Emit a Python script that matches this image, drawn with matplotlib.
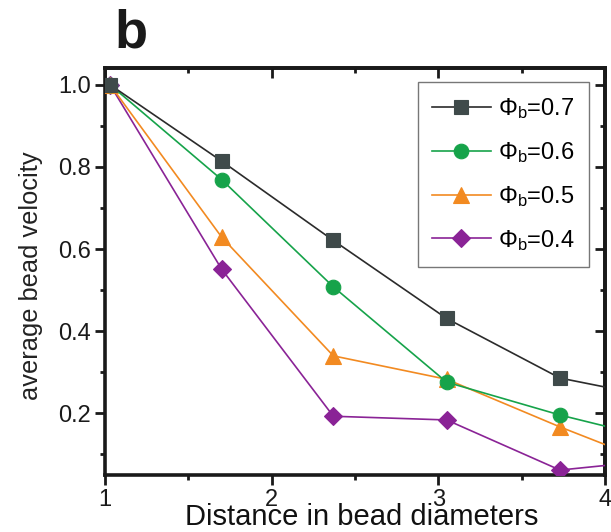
import matplotlib
matplotlib.use("Agg")
import matplotlib.pyplot as plt
from matplotlib.ticker import MultipleLocator, FixedLocator

plt.rcParams['font.family'] = ['Liberation Sans', 'DejaVu Sans']
plt.rcParams['mathtext.fontset'] = 'custom'
plt.rcParams['mathtext.rm'] = 'Liberation Sans'
plt.rcParams['mathtext.it'] = 'Liberation Sans:italic'

# distance from the driven bead, in bead diameters
distance = [1.03, 1.70, 2.37, 3.05, 3.73, 4.41]

# average bead velocity for each packing fraction
v_07 = [1.00, 0.814, 0.621, 0.431, 0.286, 0.231]
v_06 = [1.00, 0.769, 0.508, 0.276, 0.196, 0.128]
v_05 = [1.00, 0.629, 0.340, 0.283, 0.167, 0.059]
v_04 = [1.00, 0.551, 0.193, 0.184, 0.062, 0.090]

labels = [r'$\Phi_\mathrm{b}$=0.7', r'$\Phi_\mathrm{b}$=0.6',
          r'$\Phi_\mathrm{b}$=0.5', r'$\Phi_\mathrm{b}$=0.4']

x_ticks = [1, 2, 3, 4]
y_ticks = [0.2, 0.4, 0.6, 0.8, 1.0]

fig = plt.figure(figsize=(6.11, 5.32), dpi=100)
ax = fig.add_axes([105 / 611, 1 - 475 / 532, 500 / 611, 406.7 / 532])

styles = [
    (v_07, '#2b2b2b', '#3f4a4a', 's', 9.5),
    (v_06, '#16a34a', '#16a34a', 'o', 10.5),
    (v_05, '#f28a21', '#f28a21', '^', 11.5),
    (v_04, '#8a2396', '#8a2396', 'D', 9.0),
]

handles = [None] * 4
for i in reversed(range(4)):
    vals, lc, mc, mk, ms = styles[i]
    h, = ax.plot(distance, vals, color=lc, lw=1.2, marker=mk, ms=ms,
                 markerfacecolor=mc, markeredgecolor=mc, markeredgewidth=0.8,
                 label=labels[i], zorder=3 + (4 - i))
    handles[i] = h

ax.set_xlim(1, 4)
ax.set_ylim(0.05, 1.04)
ax.xaxis.set_major_locator(FixedLocator(x_ticks))
ax.yaxis.set_major_locator(FixedLocator(y_ticks))
ax.xaxis.set_minor_locator(MultipleLocator(0.5))
ax.yaxis.set_minor_locator(MultipleLocator(0.1))
ax.set_xticklabels([str(t) for t in x_ticks])
ax.set_yticklabels([f'{t:.1f}' for t in y_ticks])

for s in ax.spines.values():
    s.set_linewidth(2.6)
    s.set_color('#1a1a1a')

ax.tick_params(which='both', direction='out', top=False, right=False,
               width=2.0, color='#1a1a1a', labelsize=17, labelcolor='#1a1a1a')
ax.tick_params(which='major', length=7, pad=3)
ax.tick_params(which='minor', length=3.6)

# mirrored ticks on the top and right edges, pointing inwards
secx = ax.secondary_xaxis('top')
secx.xaxis.set_major_locator(FixedLocator(x_ticks))
secx.xaxis.set_minor_locator(MultipleLocator(0.5))
secx.tick_params(which='both', direction='in', labeltop=False, width=2.0,
                 color='#1a1a1a')
secx.tick_params(which='major', length=7)
secx.tick_params(which='minor', length=3.6)
secx.spines['top'].set_linewidth(2.6)

secy = ax.secondary_yaxis('right')
secy.yaxis.set_major_locator(FixedLocator(y_ticks))
secy.yaxis.set_minor_locator(MultipleLocator(0.1))
secy.tick_params(which='both', direction='in', labelright=False, width=2.0,
                 color='#1a1a1a')
secy.tick_params(which='major', length=7)
secy.tick_params(which='minor', length=3.6)
secy.spines['right'].set_linewidth(2.6)

ax.set_xlabel('Distance in bead diameters', fontsize=21, color='#111111')
ax.xaxis.label.set_va('baseline')
ax.xaxis.set_label_coords(0.514, -0.123)

ax.set_ylabel('average bead velocity', fontsize=18.3, color='#222222')
ax.yaxis.set_label_coords(-0.124, 0.49)

leg = ax.legend(handles=handles, loc='upper right', bbox_to_anchor=(0.968, 0.966),
                borderaxespad=0, fontsize=17, frameon=True, fancybox=False,
                handlelength=2.5, handletextpad=0.3, borderpad=0.6,
                labelspacing=0.8)
leg.get_frame().set_edgecolor('#555555')
leg.get_frame().set_linewidth(1.0)

fig.text(114 / 611, 1 - 47 / 532, 'b', fontsize=39, fontweight='bold',
         ha='left', va='baseline', color='#1a1a1a')

fig.savefig('out.png', dpi=100)
